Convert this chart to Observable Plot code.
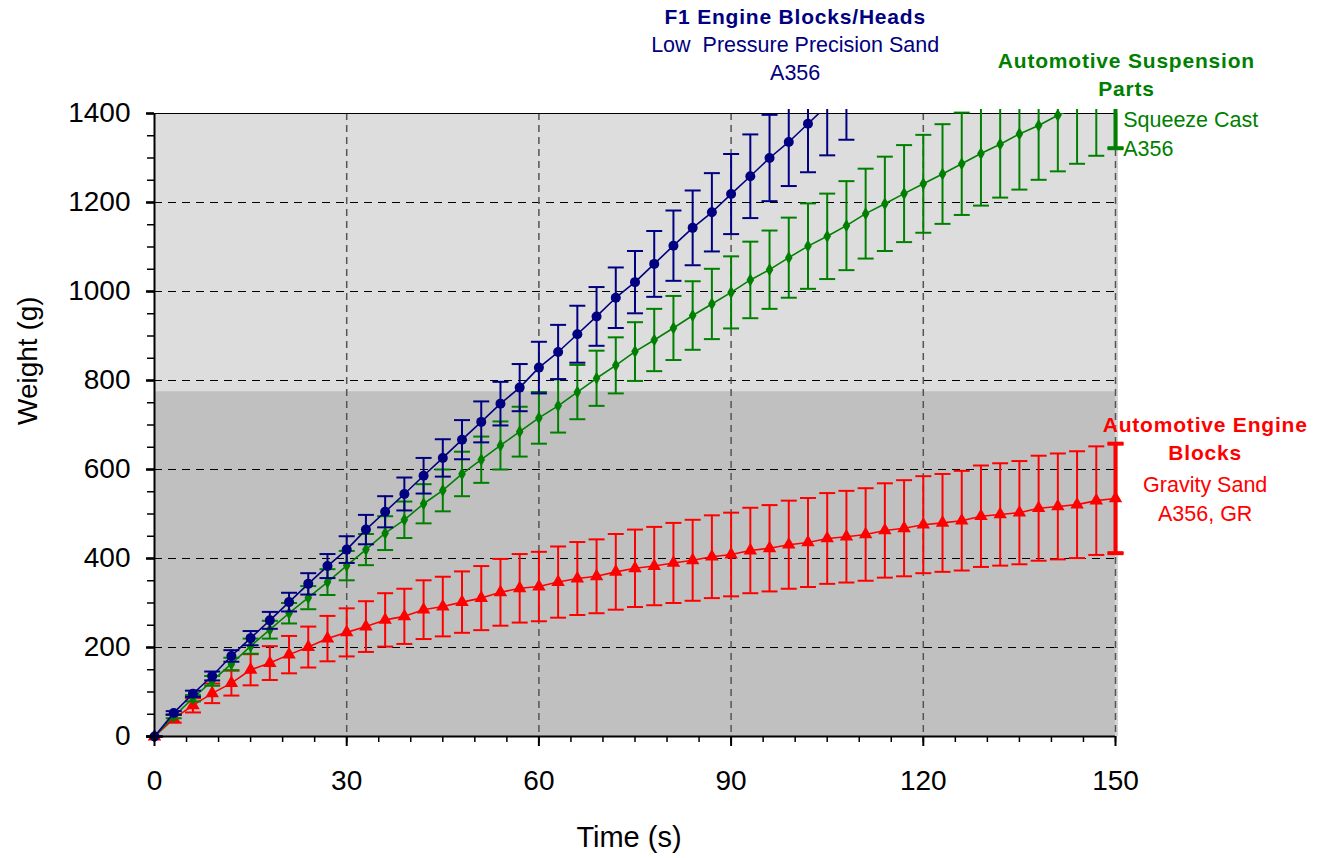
<!DOCTYPE html>
<html><head><meta charset="utf-8">
<script src="https://cdn.jsdelivr.net/npm/d3@7"></script>
<script src="https://cdn.jsdelivr.net/npm/@observablehq/plot@0.6"></script>
<style>
body{margin:0;background:#fff;}
#chart svg{display:block;overflow:visible;}
</style>
</head><body><div id="chart"></div>
<script>
// ---- data ----
const times = [0,3,6,9,12,15,18,21,24,27,30,33,36,39,42,45,48,51,54,57,60,63,66,69,72,75,78,81,84,87,90,93,96,99,102,105,108,111,114,117,120,123,126,129,132,135,138,141,144,147,150];

// F1 Engine Blocks/Heads (Low Pressure Precision Sand, A356)
const f1Weight = [0,53,96,136,181,221,261,302,343,383,420,465,505,545,586,626,667,707,748,784,829,864,904,944,986,1021,1062,1103,1143,1178,1219,1259,1300,1336,1377,1418,1455];
const f1Err    = [0,4,7,10,13,16,19,21,24,27,30,33,35,37,40,42,44,46,49,53,58,61,64,66,68,70,74,79,84,88,90,94,97,99,109,112,114];

// Automotive Suspension Parts (Squeeze Cast, A356)
const suspWeight = [0,45,86,125,163,203,240,277,312,347,384,420,457,487,523,553,590,622,654,685,716,743,774,805,834,865,891,918,946,972,998,1026,1049,1076,1102,1124,1148,1175,1197,1220,1242,1264,1287,1310,1331,1354,1373,1396,1415,1435,1454];
const suspErr    = [0,4,7,11,14,17,20,23,26,29,33,35,38,41,44,47,50,52,54,56,58,60,61,62,63,66,70,72,77,79,81,86,88,90,96,96,100,101,106,109,110,112,115,117,120,125,122,126,128,130,132];

// Automotive Engine Blocks (Gravity Sand, A356, GR)
const engWeight = [0,40,70,97,120,150,165,184,201,220,234,247,262,270,285,292,302,311,324,333,337,347,355,360,370,378,383,390,396,404,409,418,423,431,436,445,449,454,463,468,476,480,485,495,499,503,513,517,521,530,535];
const engErr    = [0,9,16,22,28,35,38,42,46,51,54,57,60,62,66,67,69,72,75,77,78,80,82,83,85,87,88,90,91,93,94,96,97,99,100,102,103,104,106,108,109,110,112,114,115,116,118,119,120,122,123];

const xTicks = [0,30,60,90,120,150];
const yTicks = [0,200,400,600,800,1000,1200,1400];
const yGrid  = [200,400,600,800,1000,1200];
const xMinor = d3.range(0,151,5);
const yMinor = d3.range(0,1401,50);
const bandSplit = 775;
const yMax = 1400;
const barOverrun = 9; // error bars are drawn a little past the top of the frame

// ---- styling per series ----
const seriesDefs = [
  {key:"eng",  weight:engWeight,  err:engErr,  color:"#FF0000", symbol:"triangle", r:5},
  {key:"susp", weight:suspWeight, err:suspErr, color:"#008000", symbol:"diamond",  r:4},
  {key:"f1",   weight:f1Weight,   err:f1Err,   color:"#000080", symbol:"circle",   r:5}
];
function rowsOf(s){
  return s.weight.map((w,i)=>({t:times[i], w, lo:w - s.err[i], hi:w + s.err[i]}));
}
const capSymbol = {draw(ctx, size){ const w = Math.sqrt(size/Math.PI); ctx.moveTo(-w,0); ctx.lineTo(w,0); }};

const seriesMarks = [];
for (const s of seriesDefs) {
  const rows = rowsOf(s);
  const shown = rows.filter(d => d.lo <= yMax);
  const top = yMax + barOverrun;
  const barSpec = {x:"t", y1:"lo", y2:d => Math.min(d.hi, top), stroke:s.color};
  const lastRows = shown.filter(d => d.t === 150);
  seriesMarks.push(
    Plot.ruleX(shown, {...barSpec, strokeWidth:2}),
    Plot.dot(shown.filter(d => d.hi <= top), {x:"t", y:"hi", symbol:capSymbol, r:8, stroke:s.color, strokeWidth:2, fill:"none"}),
    Plot.dot(shown, {x:"t", y:"lo", symbol:capSymbol, r:8, stroke:s.color, strokeWidth:2, fill:"none"}),
    Plot.ruleX(lastRows, {...barSpec, strokeWidth:4}),
    Plot.dot(lastRows, {x:"t", y:"lo", symbol:capSymbol, r:8, stroke:s.color, strokeWidth:4, fill:"none"}),
    Plot.dot(lastRows.filter(d => d.hi <= top), {x:"t", y:"hi", symbol:capSymbol, r:8, stroke:s.color, strokeWidth:4, fill:"none"}),
    Plot.line(rows, {x:"t", y:"w", stroke:s.color, strokeWidth:1.6, clip:true}),
    Plot.dot(rows.filter(d => d.w <= yMax), {x:"t", y:"w", symbol:s.symbol, r:s.r, fill:s.color, stroke:"none"})
  );
}

const font = "'Liberation Sans', Arial, Helvetica, sans-serif";
const chart = Plot.plot({
  width:1323, height:858,
  marginLeft:154, marginRight:208, marginTop:113, marginBottom:122,
  x:{domain:[0,150]},
  y:{domain:[0,yMax]},
  style:{fontFamily:font, background:"white", color:"black", overflow:"visible"},
  marks:[
    Plot.rect([{x1:0,x2:150,y1:bandSplit,y2:yMax}], {x1:"x1",x2:"x2",y1:"y1",y2:"y2", fill:"#DDDDDD"}),
    Plot.rect([{x1:0,x2:150,y1:0,y2:bandSplit}], {x1:"x1",x2:"x2",y1:"y1",y2:"y2", fill:"#C0C0C0"}),
    Plot.rect([{x1:150,x2:150,y1:0,y2:yMax}], {x1:"x1",x2:"x2",y1:"y1",y2:"y2", fill:"#D4D4D4", insetRight:-3}),
    Plot.ruleY(yGrid, {stroke:"#000", strokeWidth:1, strokeDasharray:"8,6"}),
    Plot.ruleX(xTicks.filter(d=>d>0), {stroke:"#555", strokeWidth:1.5, strokeDasharray:"7,5"}),
    Plot.ruleY([yMax], {stroke:"#000", strokeWidth:1}),
    ...seriesMarks,
    Plot.axisY({ticks:yMinor, tickSize:7, strokeWidth:1.5, tickFormat:()=>"", label:null}),
    Plot.axisY({ticks:yTicks, tickSize:8, tickPadding:16, strokeWidth:2.5, fontSize:28, tickFormat:d=>String(d), label:null}),
    Plot.axisX({ticks:xMinor, tickSize:6, strokeWidth:1.5, tickFormat:()=>"", label:null}),
    Plot.axisX({ticks:xTicks, tickSize:10, tickPadding:24, strokeWidth:2, fontSize:28, tickFormat:d=>String(d), label:null}),
    Plot.ruleX([0], {stroke:"#000", strokeWidth:2}),
    Plot.ruleY([0], {stroke:"#000", strokeWidth:2}),
    Plot.text(["Weight (g)"], {frameAnchor:"left", dx:-126, rotate:-90, fontSize:28, fill:"#000"}),
    Plot.text(["Time (s)"], {frameAnchor:"bottom", dx:-6, dy:110, fontSize:29, fill:"#000"}),
    // annotations
    Plot.text(["F1 Engine Blocks/Heads"], {x:100, y:1616, fontSize:21, fontWeight:"bold", fill:"#000080"}),
    Plot.text(["Low  Pressure Precision Sand\nA356"], {x:100, y:1527, fontSize:21.5, lineHeight:1.33, fill:"#000080"}),
    Plot.text(["Automotive Suspension\nParts"], {x:151.7, y:1491, fontSize:21, lineHeight:1.36, fontWeight:"bold", fill:"#008000"}),
    Plot.text(["Squeeze Cast\nA356"], {x:151.2, y:1358, fontSize:21.5, lineHeight:1.33, textAnchor:"start", fill:"#008000"}),
    Plot.text(["Automotive Engine\nBlocks"], {x:164, y:673, fontSize:21, lineHeight:1.36, fontWeight:"bold", fill:"#FF0000"}),
    Plot.text(["Gravity Sand\nA356, GR"], {x:164, y:538, fontSize:21.5, lineHeight:1.33, fill:"#FF0000"})
  ]
});
chart.querySelectorAll('g[font-weight="bold"]').forEach(g => g.setAttribute("letter-spacing","0.8"));
document.getElementById("chart").appendChild(chart);
</script>
</body></html>
